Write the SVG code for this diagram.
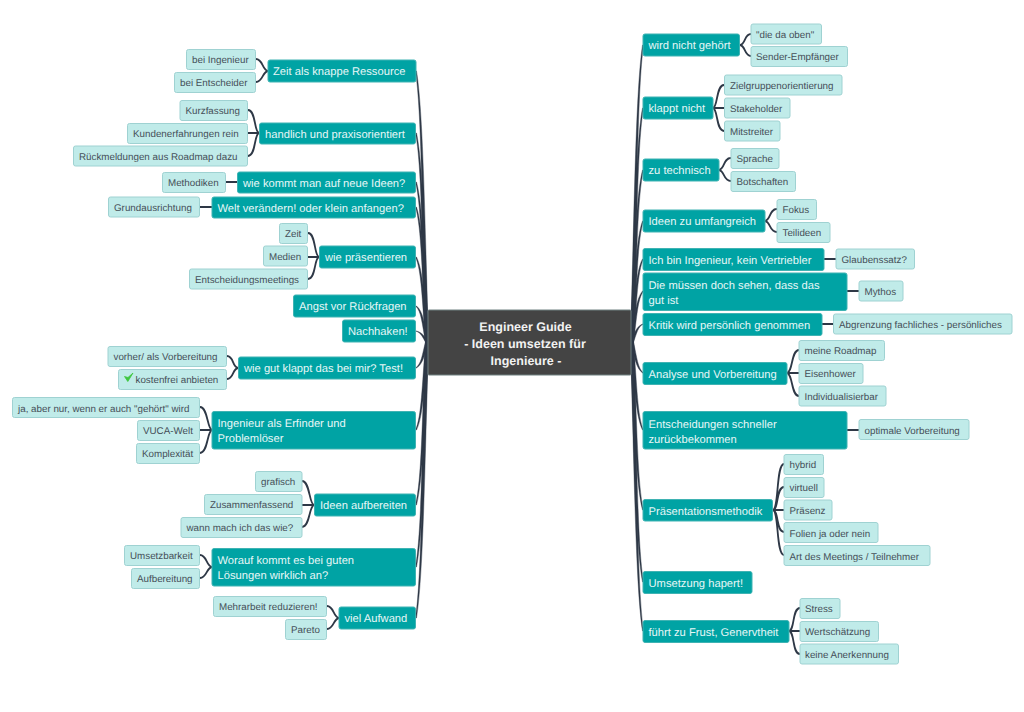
<svg xmlns="http://www.w3.org/2000/svg" width="1024" height="712" viewBox="0 0 1024 712">
<style>
text{font-family:"Liberation Sans",Arial,sans-serif;text-rendering:geometricPrecision}
.m{fill:#00a3a4;stroke:#3fb3b3;stroke-width:1}
.s{fill:#c0ebe9;stroke:#9fd2d2;stroke-width:1}
.c{fill:#444444;stroke:#6f8080;stroke-width:1}
.mt{fill:#e6f7f7;font-size:11.2px}
.st{fill:#454f58;font-size:9.8px}
.ct{fill:#f2f2f2;font-size:12.5px;font-weight:bold;text-anchor:middle}
#connectors path{fill:none;stroke:#2e3846;stroke-width:1.8}
#connectors path.t{fill:#2e3846;stroke:#2e3846;stroke-width:.4}
</style>
<g id="connectors">
<path class="t" d="M428.500 342C424.500 206.500 423 111.700 416.500 71L415.500 71C421.500 111.700 422 206.500 425.500 342Z"/>
<path class="t" d="M428.500 342C424.500 237.500 423 164 416.500 133L415.500 133C421.500 164 422 237.500 425.500 342Z"/>
<path class="t" d="M428.500 342C424.500 262 423 206 416.500 182L415.500 182C421.500 206 422 262 425.500 342Z"/>
<path class="t" d="M428.500 342C424.500 274.500 423 227 416.500 207L415.500 207C421.500 227 422 274.500 425.500 342Z"/>
<path class="t" d="M428.500 342C424.500 299.500 423 270 416.500 257L415.500 257C421.500 270 422 299.500 425.500 342Z"/>
<path class="t" d="M428.500 342C424.500 324 423 311 416.500 306L415.500 306C421.500 311 422 324 425.500 342Z"/>
<path class="t" d="M428.500 342C424.500 336.500 423 333 416.500 331L415.500 331C421.500 333 422 336.500 425.500 342Z"/>
<path class="t" d="M428.500 342C424.500 355 423 364 416.500 368L415.500 368C421.500 364 422 355 425.500 342Z"/>
<path class="t" d="M428.500 342C424.500 386 423 417 416.500 430L415.500 430C421.500 417 422 386 425.500 342Z"/>
<path class="t" d="M428.500 342C424.500 423.500 423 480.500 416.500 505L415.500 505C421.500 480.500 422 423.500 425.500 342Z"/>
<path class="t" d="M428.500 342C424.500 454.500 423 533 416.500 567L415.500 567C421.500 533 422 454.500 425.500 342Z"/>
<path class="t" d="M428.500 342C424.500 480 423 577 416.500 618L415.500 618C421.500 577 422 480 425.500 342Z"/>
<path class="t" d="M630.500 342C634.500 193.500 636 89.500 642.500 45L643.500 45C637.500 89.500 637 193.500 633.500 342Z"/>
<path class="t" d="M630.500 342C634.500 225 636 143 642.500 108L643.500 108C637.500 143 637 225 633.500 342Z"/>
<path class="t" d="M630.500 342C634.500 256 636 196 642.500 170L643.500 170C637.500 196 637 256 633.500 342Z"/>
<path class="t" d="M630.500 342C634.500 281.500 636 239 642.500 221L643.500 221C637.500 239 637 281.500 633.500 342Z"/>
<path class="t" d="M630.500 342C634.500 300.500 636 271 642.500 259L643.500 259C637.500 271 637 300.500 633.500 342Z"/>
<path class="t" d="M630.500 342C634.500 316.500 636 299 642.500 291L643.500 291C637.500 299 637 316.500 633.500 342Z"/>
<path class="t" d="M630.500 342C634.500 333 636 327 642.500 324L643.500 324C637.500 327 637 333 633.500 342Z"/>
<path class="t" d="M630.500 342C634.500 357.500 636 368 642.500 373L643.500 373C637.500 368 637 357.500 633.500 342Z"/>
<path class="t" d="M630.500 342C634.500 386 636 417 642.500 430L643.500 430C637.500 417 637 386 633.500 342Z"/>
<path class="t" d="M630.500 342C634.500 426 636 485 642.500 510L643.500 510C637.500 485 637 426 633.500 342Z"/>
<path class="t" d="M630.500 342C634.500 462 636 546 642.500 582L643.500 582C637.500 546 637 462 633.500 342Z"/>
<path class="t" d="M630.500 342C634.500 486.500 636 588 642.500 631L643.500 631C637.500 588 637 486.500 633.500 342Z"/>
<path d="M268 71C262 70 263 59 256 59M268 71C262 72 263 82 256 82"/>
<path d="M259 133C254 132 256 110 248 110M259 133H248M259 133C254 134 256 156 248 156"/>
<path d="M237 182H226M212 207H200"/>
<path d="M319 257C314 256 316 233 308 233M319 257H308M319 257C314 258 316 279 308 279"/>
<path d="M238 368C232 367 234 356 227 356M238 368C232 369 234 379 227 379"/>
<path d="M212 430C207 429 208 407 200 407M212 430H200M212 430C207 431 208 453 200 453"/>
<path d="M314 505C309 504 310 481 302 481M314 505H302M314 505C309 506 310 527 302 527"/>
<path d="M212 567C206 566 207 555 200 555M212 567C206 568 207 578 200 578"/>
<path d="M339 618C333 617 334 606 327 606M339 618C333 619 334 629 327 629"/>
<path d="M740 45C746 44 744 34 751 34M740 45C746 46 744 56 751 56"/>
<path d="M713 108C718 107 716 85 724 85M713 108H724M713 108C718 109 716 131 724 131"/>
<path d="M719 170C725 169 723 158 731 158M719 170C725 171 723 181 731 181"/>
<path d="M765 221C771 220 769 209 777 209M765 221C771 222 769 232 777 232"/>
<path d="M824 259H836M847 291H859M822 324H833M847 430H859"/>
<path d="M787 373C793 372 791 350 799 350M787 373H799M787 373C793 374 791 396 799 396"/>
<path d="M773 510C779 509 776 464 784 464M773 510C779 509 776 487 784 487M773 510H784M773 510C779 511 776 532 784 532M773 510C779 511 776 555 784 555"/>
<path d="M789 631C795 630 792 608 800 608M789 631H800M789 631C795 632 792 654 800 654"/>
</g>
<g id="center"><rect class="c" x="428" y="310" width="203" height="65" rx="1"/><text class="ct" x="525.500" y="331">Engineer Guide</text><text class="ct" x="525" y="348">- Ideen umsetzen für</text><text class="ct" x="526" y="365">Ingenieure -</text></g>

<g id="l1"><rect class="m" x="268" y="60" width="148" height="22" rx="2"/><text class="mt" x="273" y="75">Zeit als knappe Ressource</text></g>
<g id="l1a"><rect class="s" x="186.500" y="49.500" width="69" height="20" rx="2"/><text class="st" x="192" y="63">bei Ingenieur</text></g>
<g id="l1b"><rect class="s" x="174.500" y="72.500" width="81" height="20" rx="2"/><text class="st" x="180" y="86">bei Entscheider</text></g>
<g id="l2"><rect class="m" x="259.500" y="123" width="156" height="21" rx="2"/><text class="mt" x="265" y="138">handlich und praxisorientiert</text></g>
<g id="l2a"><rect class="s" x="180" y="100.500" width="67.500" height="20" rx="2"/><text class="st" x="185.500" y="114">Kurzfassung</text></g>
<g id="l2b"><rect class="s" x="127.500" y="123.500" width="120" height="20" rx="2"/><text class="st" x="133" y="137">Kundenerfahrungen rein</text></g>
<g id="l2c"><rect class="s" x="73.500" y="146" width="174" height="20" rx="2"/><text class="st" x="79" y="160">Rückmeldungen aus Roadmap dazu</text></g>
<g id="l3"><rect class="m" x="237.500" y="172" width="178" height="21" rx="2"/><text class="mt" x="243" y="187">wie kommt man auf neue Ideen?</text></g>
<g id="l3a"><rect class="s" x="162.500" y="172.500" width="63" height="20" rx="2"/><text class="st" x="168" y="186">Methodiken</text></g>
<g id="l4"><rect class="m" x="212" y="197" width="203.500" height="21" rx="2"/><text class="mt" x="217.500" y="212">Welt verändern! oder klein anfangen?</text></g>
<g id="l4a"><rect class="s" x="108.500" y="197" width="91" height="20" rx="2"/><text class="st" x="114" y="211">Grundausrichtung</text></g>
<g id="l5"><rect class="m" x="319.500" y="246" width="96" height="22" rx="2"/><text class="mt" x="325" y="261">wie präsentieren</text></g>
<g id="l5a"><rect class="s" x="279.500" y="223.500" width="28" height="20" rx="2"/><text class="st" x="285" y="237">Zeit</text></g>
<g id="l5b"><rect class="s" x="263.500" y="246" width="44" height="20" rx="2"/><text class="st" x="269" y="260">Medien</text></g>
<g id="l5c"><rect class="s" x="189.500" y="269" width="118" height="20" rx="2"/><text class="st" x="195" y="283">Entscheidungsmeetings</text></g>
<g id="l6"><rect class="m" x="293.500" y="295" width="122" height="22" rx="2"/><text class="mt" x="299" y="310">Angst vor Rückfragen</text></g>
<g id="l7"><rect class="m" x="342.500" y="320" width="73" height="22" rx="2"/><text class="mt" x="348" y="335">Nachhaken!</text></g>
<g id="l8"><rect class="m" x="238.500" y="357" width="177" height="22" rx="2"/><text class="mt" x="244" y="372">wie gut klappt das bei mir? Test!</text></g>
<g id="l8a"><rect class="s" x="108" y="346.500" width="118.500" height="20" rx="2"/><text class="st" x="113.500" y="360">vorher/ als Vorbereitung</text></g>
<g id="l8b"><rect class="s" x="118.500" y="369.500" width="108" height="20" rx="2"/><path d="M124.500 376.500L127.800 381.500L133 373L128 377.500Z" fill="#3fc63f" stroke="#3fc63f" stroke-width=".8"/><text class="st" x="135.500" y="383">kostenfrei anbieten</text></g>
<g id="l9"><rect class="m" x="212" y="411.500" width="203.500" height="37.500" rx="2"/><text class="mt" x="217.500" y="427">Ingenieur als Erfinder und</text><text class="mt" x="217.500" y="442">Problemlöser</text></g>
<g id="l9a"><rect class="s" x="12.500" y="397.500" width="187" height="20" rx="2"/><text class="st" x="18" y="412">ja, aber nur, wenn er auch "gehört" wird</text></g>
<g id="l9b"><rect class="s" x="137.500" y="420.500" width="62" height="20" rx="2"/><text class="st" x="143" y="434">VUCA-Welt</text></g>
<g id="l9c"><rect class="s" x="136.500" y="443.500" width="63" height="20" rx="2"/><text class="st" x="142" y="457">Komplexität</text></g>
<g id="l10"><rect class="m" x="314.500" y="494" width="101" height="22" rx="2"/><text class="mt" x="320" y="509">Ideen aufbereiten</text></g>
<g id="l10a"><rect class="s" x="255.500" y="471.500" width="46.500" height="20" rx="2"/><text class="st" x="261" y="485">grafisch</text></g>
<g id="l10b"><rect class="s" x="204.500" y="494.500" width="97.500" height="20" rx="2"/><text class="st" x="210" y="508">Zusammenfassend</text></g>
<g id="l10c"><rect class="s" x="181" y="517.500" width="121" height="20" rx="2"/><text class="st" x="186.500" y="531">wann mach ich das wie?</text></g>
<g id="l11"><rect class="m" x="212" y="548.500" width="203.500" height="37.500" rx="2"/><text class="mt" x="217.500" y="564">Worauf kommt es bei guten</text><text class="mt" x="217.500" y="579">Lösungen wirklich an?</text></g>
<g id="l11a"><rect class="s" x="124.500" y="545.500" width="75" height="20" rx="2"/><text class="st" x="130" y="559">Umsetzbarkeit</text></g>
<g id="l11b"><rect class="s" x="131.500" y="568.500" width="68" height="20" rx="2"/><text class="st" x="137" y="582">Aufbereitung</text></g>
<g id="l12"><rect class="m" x="339" y="607" width="76.500" height="22" rx="2"/><text class="mt" x="344.500" y="622">viel Aufwand</text></g>
<g id="l12a"><rect class="s" x="213.500" y="596.500" width="113" height="20" rx="2"/><text class="st" x="219" y="610">Mehrarbeit reduzieren!</text></g>
<g id="l12b"><rect class="s" x="285.500" y="619.500" width="41" height="20" rx="2"/><text class="st" x="291" y="633">Pareto</text></g>

<g id="r1"><rect class="m" x="643" y="34" width="96.500" height="22" rx="2"/><text class="mt" x="648.500" y="49">wird nicht gehört</text></g>
<g id="r1a"><rect class="s" x="751" y="24" width="70.500" height="20" rx="2"/><text class="st" x="756" y="38">"die da oben"</text></g>
<g id="r1b"><rect class="s" x="751" y="46.500" width="96.500" height="20" rx="2"/><text class="st" x="756" y="60">Sender-Empfänger</text></g>
<g id="r2"><rect class="m" x="643" y="97" width="70" height="22" rx="2"/><text class="mt" x="648.500" y="112">klappt nicht</text></g>
<g id="r2a"><rect class="s" x="724.500" y="75" width="117.500" height="20" rx="2"/><text class="st" x="730" y="89">Zielgruppenorientierung</text></g>
<g id="r2b"><rect class="s" x="724.500" y="98" width="65.500" height="20" rx="2"/><text class="st" x="730" y="112">Stakeholder</text></g>
<g id="r2c"><rect class="s" x="724.500" y="121" width="55.500" height="20" rx="2"/><text class="st" x="730" y="135">Mitstreiter</text></g>
<g id="r3"><rect class="m" x="643" y="159" width="76" height="22" rx="2"/><text class="mt" x="648.500" y="174">zu technisch</text></g>
<g id="r3a"><rect class="s" x="731" y="148.500" width="48" height="20" rx="2"/><text class="st" x="736.500" y="162">Sprache</text></g>
<g id="r3b"><rect class="s" x="731" y="171.500" width="64.500" height="20" rx="2"/><text class="st" x="736.500" y="185">Botschaften</text></g>
<g id="r4"><rect class="m" x="643" y="210" width="122" height="22" rx="2"/><text class="mt" x="648.500" y="225">Ideen zu umfangreich</text></g>
<g id="r4a"><rect class="s" x="777" y="199.500" width="39.500" height="20" rx="2"/><text class="st" x="782.500" y="213">Fokus</text></g>
<g id="r4b"><rect class="s" x="777" y="222.500" width="53" height="20" rx="2"/><text class="st" x="782.500" y="236">Teilideen</text></g>
<g id="r5"><rect class="m" x="643" y="248.500" width="181" height="22" rx="2"/><text class="mt" x="648.500" y="264">Ich bin Ingenieur, kein Vertriebler</text></g>
<g id="r5a"><rect class="s" x="836" y="249" width="78.500" height="20" rx="2"/><text class="st" x="841.500" y="263">Glaubenssatz?</text></g>
<g id="r6"><rect class="m" x="643" y="273" width="204" height="37.500" rx="2"/><text class="mt" x="648.500" y="289">Die müssen doch sehen, dass das</text><text class="mt" x="648.500" y="304">gut ist</text></g>
<g id="r6a"><rect class="s" x="859" y="281" width="44" height="20" rx="2"/><text class="st" x="864.500" y="295">Mythos</text></g>
<g id="r7"><rect class="m" x="643" y="313.500" width="179" height="22" rx="2"/><text class="mt" x="648.500" y="329">Kritik wird persönlich genommen</text></g>
<g id="r7a"><rect class="s" x="833.500" y="314" width="178.500" height="20" rx="2"/><text class="st" x="839" y="328">Abgrenzung fachliches - persönliches</text></g>
<g id="r8"><rect class="m" x="643" y="362.500" width="144" height="22" rx="2"/><text class="mt" x="648.500" y="378">Analyse und Vorbereitung</text></g>
<g id="r8a"><rect class="s" x="799" y="340.500" width="85.500" height="20" rx="2"/><text class="st" x="804.500" y="354">meine Roadmap</text></g>
<g id="r8b"><rect class="s" x="799" y="363.500" width="64" height="20" rx="2"/><text class="st" x="804.500" y="377">Eisenhower</text></g>
<g id="r8c"><rect class="s" x="799" y="386" width="87" height="20" rx="2"/><text class="st" x="804.500" y="400">Individualisierbar</text></g>
<g id="r9"><rect class="m" x="643" y="411.500" width="204" height="37.500" rx="2"/><text class="mt" x="648.500" y="428">Entscheidungen schneller</text><text class="mt" x="648.500" y="443">zurückbekommen</text></g>
<g id="r9a"><rect class="s" x="859" y="419.500" width="110" height="20" rx="2"/><text class="st" x="864.500" y="434">optimale Vorbereitung</text></g>
<g id="r10"><rect class="m" x="643" y="499.500" width="129.500" height="21.500" rx="2"/><text class="mt" x="648.500" y="514.500">Präsentationsmethodik</text></g>
<g id="r10a"><rect class="s" x="784" y="454.500" width="39.500" height="20" rx="2"/><text class="st" x="789.500" y="468">hybrid</text></g>
<g id="r10b"><rect class="s" x="784" y="477.500" width="40" height="20" rx="2"/><text class="st" x="789.500" y="491">virtuell</text></g>
<g id="r10c"><rect class="s" x="784" y="500" width="48" height="20" rx="2"/><text class="st" x="789.500" y="514">Präsenz</text></g>
<g id="r10d"><rect class="s" x="784" y="522.500" width="94" height="20" rx="2"/><text class="st" x="789.500" y="537">Folien ja oder nein</text></g>
<g id="r10e"><rect class="s" x="784" y="545.500" width="146" height="20" rx="2"/><text class="st" x="789.500" y="560">Art des Meetings / Teilnehmer</text></g>
<g id="r11"><rect class="m" x="643" y="571.500" width="109" height="22" rx="2"/><text class="mt" x="648.500" y="587">Umsetzung hapert!</text></g>
<g id="r12"><rect class="m" x="643" y="620.500" width="146" height="22" rx="2"/><text class="mt" x="648.500" y="636">führt zu Frust, Genervtheit</text></g>
<g id="r12a"><rect class="s" x="800" y="598.500" width="40" height="20" rx="2"/><text class="st" x="805" y="612">Stress</text></g>
<g id="r12b"><rect class="s" x="800" y="621.500" width="78.500" height="20" rx="2"/><text class="st" x="805" y="635">Wertschätzung</text></g>
<g id="r12c"><rect class="s" x="800" y="644" width="98.500" height="20" rx="2"/><text class="st" x="805" y="658">keine Anerkennung</text></g>
</svg>
